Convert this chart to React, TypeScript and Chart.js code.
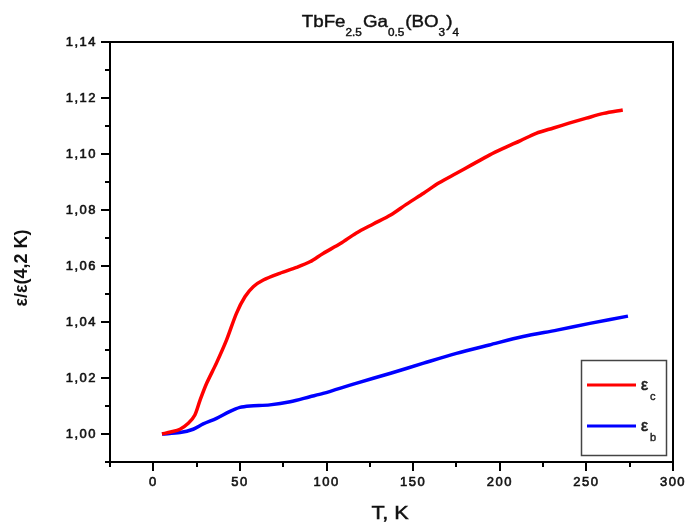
import React, { useEffect, useRef } from "react";
import { Chart, registerables } from "chart.js";

Chart.register(...registerables);

// ε_c (red) series: temperature T (K) and ε/ε(4,2 K)
const T_C = [5, 10, 15.4, 20.2, 24, 27, 30.8, 36.5, 42.3, 48, 52.9, 57.7, 63.5, 73, 82.7, 90.4, 98, 108, 117, 127, 137, 146, 156, 165, 175, 184, 194, 202, 212, 221, 231, 240, 250, 260, 271];
const EPS_C = [1.0, 1.0007, 1.0017, 1.0038, 1.0068, 1.0121, 1.0181, 1.0254, 1.0336, 1.0431, 1.049, 1.0526, 1.055, 1.0574, 1.0595, 1.0615, 1.0645, 1.068, 1.0717, 1.075, 1.0782, 1.082, 1.086, 1.0897, 1.0931, 1.0962, 1.0996, 1.102, 1.1048, 1.1074, 1.1093, 1.111, 1.1128, 1.1145, 1.1157];

// ε_b (blue) series
const T_B = [5, 15.4, 23, 28.8, 36.5, 44, 50, 55.8, 67.3, 79, 90.4, 98, 117, 137, 156, 175, 194, 213.5, 233, 252, 274];
const EPS_B = [1.0, 1.0005, 1.0017, 1.0036, 1.0056, 1.008, 1.0095, 1.01, 1.0104, 1.0115, 1.0133, 1.0145, 1.0181, 1.0217, 1.0253, 1.0288, 1.0318, 1.0348, 1.0371, 1.0395, 1.0421];

const X_TICKS = [0, 50, 100, 150, 200, 250, 300];
const X_MINOR = [-25, 25, 75, 125, 175, 225, 275];
const Y_TICKS = [1.0, 1.02, 1.04, 1.06, 1.08, 1.1, 1.12, 1.14];
const Y_MINOR = [0.99, 1.01, 1.03, 1.05, 1.07, 1.09, 1.11, 1.13];

const TITLE_RUNS: [string, boolean][] = [
  ["TbFe", false], ["2.5", true], ["Ga", false], ["0.5", true],
  ["(BO", false], ["3", true], [")", false], ["4", true],
];
const X_TITLE = "T, K";
const Y_TITLE = "ε/ε(4,2 K)";
const LEGEND_ITEMS: [string, string, string][] = [
  ["ε", "c", "#ff0000"],
  ["ε", "b", "#0000ff"],
];

const FONT = "'Liberation Sans', Arial, sans-serif";

function heavyText(ctx: CanvasRenderingContext2D, t: string, x: number, y: number, w = 0.6) {
  ctx.fillText(t, x, y);
  ctx.lineWidth = w;
  ctx.strokeStyle = ctx.fillStyle as string;
  ctx.strokeText(t, x, y);
}

const decor = {
  id: "decor",
  beforeDraw(chart: any) {
    chart.ctx.letterSpacing = "1.5px";
  },
  afterDraw(chart: any) {
    const ctx = chart.ctx as CanvasRenderingContext2D;
    const { left, right, top, bottom } = chart.chartArea;
    const xs = chart.scales.x;
    const ys = chart.scales.y;
    ctx.save();
    ctx.strokeStyle = "#000";
    ctx.lineWidth = 2;
    ctx.strokeRect(left, top, right - left, bottom - top);
    // ticks
    ctx.beginPath();
    X_TICKS.forEach((v) => {
      const p = Math.round(xs.getPixelForValue(v));
      ctx.moveTo(p, bottom);
      ctx.lineTo(p, bottom + 9);
    });
    X_MINOR.forEach((v) => {
      const p = Math.round(xs.getPixelForValue(v));
      ctx.moveTo(p, bottom);
      ctx.lineTo(p, bottom + 5);
    });
    Y_TICKS.forEach((v) => {
      const p = Math.round(ys.getPixelForValue(v));
      ctx.moveTo(left, p);
      ctx.lineTo(left - 9, p);
    });
    Y_MINOR.forEach((v) => {
      const p = Math.round(ys.getPixelForValue(v));
      ctx.moveTo(left, p);
      ctx.lineTo(left - 5, p);
    });
    ctx.stroke();

    ctx.fillStyle = "#111";
    ctx.letterSpacing = "0px";
    // title with subscripts
    const mainFont = `16px ${FONT}`;
    const subFont = `10px ${FONT}`;
    let w = 0;
    TITLE_RUNS.forEach(([t, sub]) => {
      ctx.font = sub ? subFont : mainFont;
      w += ctx.measureText(t).width + (sub ? 1 : 0);
    });
    const sx = 1.17;
    ctx.save();
    ctx.translate(381 - (w * sx) / 2, 0);
    ctx.scale(sx, 1);
    let cx = 0;
    ctx.textBaseline = "alphabetic";
    ctx.textAlign = "left";
    TITLE_RUNS.forEach(([t, sub]) => {
      ctx.font = sub ? subFont : mainFont;
      heavyText(ctx, t, cx, sub ? 36 : 27, 0.4);
      cx += ctx.measureText(t).width + (sub ? 1 : 0);
    });
    ctx.restore();

    // axis titles
    ctx.textAlign = "center";
    ctx.textBaseline = "middle";
    ctx.font = `18px ${FONT}`;
    ctx.save();
    ctx.translate(390, 514);
    ctx.scale(1.2, 1);
    heavyText(ctx, X_TITLE, 0, 0, 0.5);
    ctx.restore();
    ctx.font = `bold 18px ${FONT}`;
    ctx.save();
    ctx.translate(22, 268);
    ctx.rotate(-Math.PI / 2);
    ctx.fillText(Y_TITLE, 0, 0);
    ctx.restore();

    // legend
    ctx.strokeStyle = "#444";
    ctx.lineWidth = 1.5;
    ctx.strokeRect(581.5, 360.5, 85, 95);
    LEGEND_ITEMS.forEach(([sym, sub, col], i) => {
      const y = 385 + i * 41;
      ctx.strokeStyle = col;
      ctx.lineWidth = 3;
      ctx.beginPath();
      ctx.moveTo(587, y);
      ctx.lineTo(636, y);
      ctx.stroke();
      ctx.fillStyle = "#222";
      ctx.textAlign = "left";
      ctx.textBaseline = "alphabetic";
      ctx.font = `16px ${FONT}`;
      heavyText(ctx, sym, 641, y + 5, 0.6);
      ctx.font = `11px ${FONT}`;
      heavyText(ctx, sub, 650, y + 15, 0.4);
    });
    ctx.restore();
  },
};

export default function App() {
  const ref = useRef<HTMLCanvasElement | null>(null);
  useEffect(() => {
    document.body.style.margin = "0";
    const chart = new Chart(ref.current!, {
      type: "line",
      data: {
        datasets: [
          {
            label: "εc",
            data: T_C.map((x, i) => ({ x, y: EPS_C[i] })),
            borderColor: "#ff0000",
            borderWidth: 3.5,
            pointRadius: 0,
            tension: 0.3,
            fill: false,
          },
          {
            label: "εb",
            data: T_B.map((x, i) => ({ x, y: EPS_B[i] })),
            borderColor: "#0000ff",
            borderWidth: 3.5,
            pointRadius: 0,
            tension: 0.3,
            fill: false,
          },
        ],
      },
      options: {
        animation: false,
        responsive: false,
        layout: { padding: { left: 0, top: 42, right: 16, bottom: 0 } },
        plugins: { legend: { display: false }, title: { display: false }, tooltip: { enabled: false } },
        scales: {
          x: {
            type: "linear",
            min: -25,
            max: 300,
            afterBuildTicks: (s: any) => { s.ticks = X_TICKS.map((value) => ({ value })); },
            afterFit: (s: any) => { s.height = 65; s.paddingLeft = 0; s.paddingRight = 0; },
            grid: { display: false, drawTicks: false },
            border: { display: false },
            ticks: { padding: 13, color: "#111", textStrokeColor: "#111", textStrokeWidth: 0.6, font: { family: FONT, size: 13 }, maxRotation: 0, autoSkip: false, callback: (v: any) => String(v) },
          },
          y: {
            type: "linear",
            min: 0.99,
            max: 1.14,
            afterBuildTicks: (s: any) => { s.ticks = Y_TICKS.map((value) => ({ value })); },
            afterFit: (s: any) => { s.width = 110; s.paddingTop = 0; s.paddingBottom = 0; },
            grid: { display: false, drawTicks: false },
            border: { display: false },
            ticks: { padding: 13, color: "#111", textStrokeColor: "#111", textStrokeWidth: 0.6, font: { family: FONT, size: 13 }, autoSkip: false, callback: (v: any) => Number(v).toFixed(2).replace(".", ",") },
          },
        },
      },
      plugins: [decor],
    });
    return () => chart.destroy();
  }, []);
  return (
    <div style={{ position: "absolute", left: 0, top: 0, width: 689, height: 527, background: "#fff" }}>
      <canvas ref={ref} width={689} height={527} />
    </div>
  );
}
